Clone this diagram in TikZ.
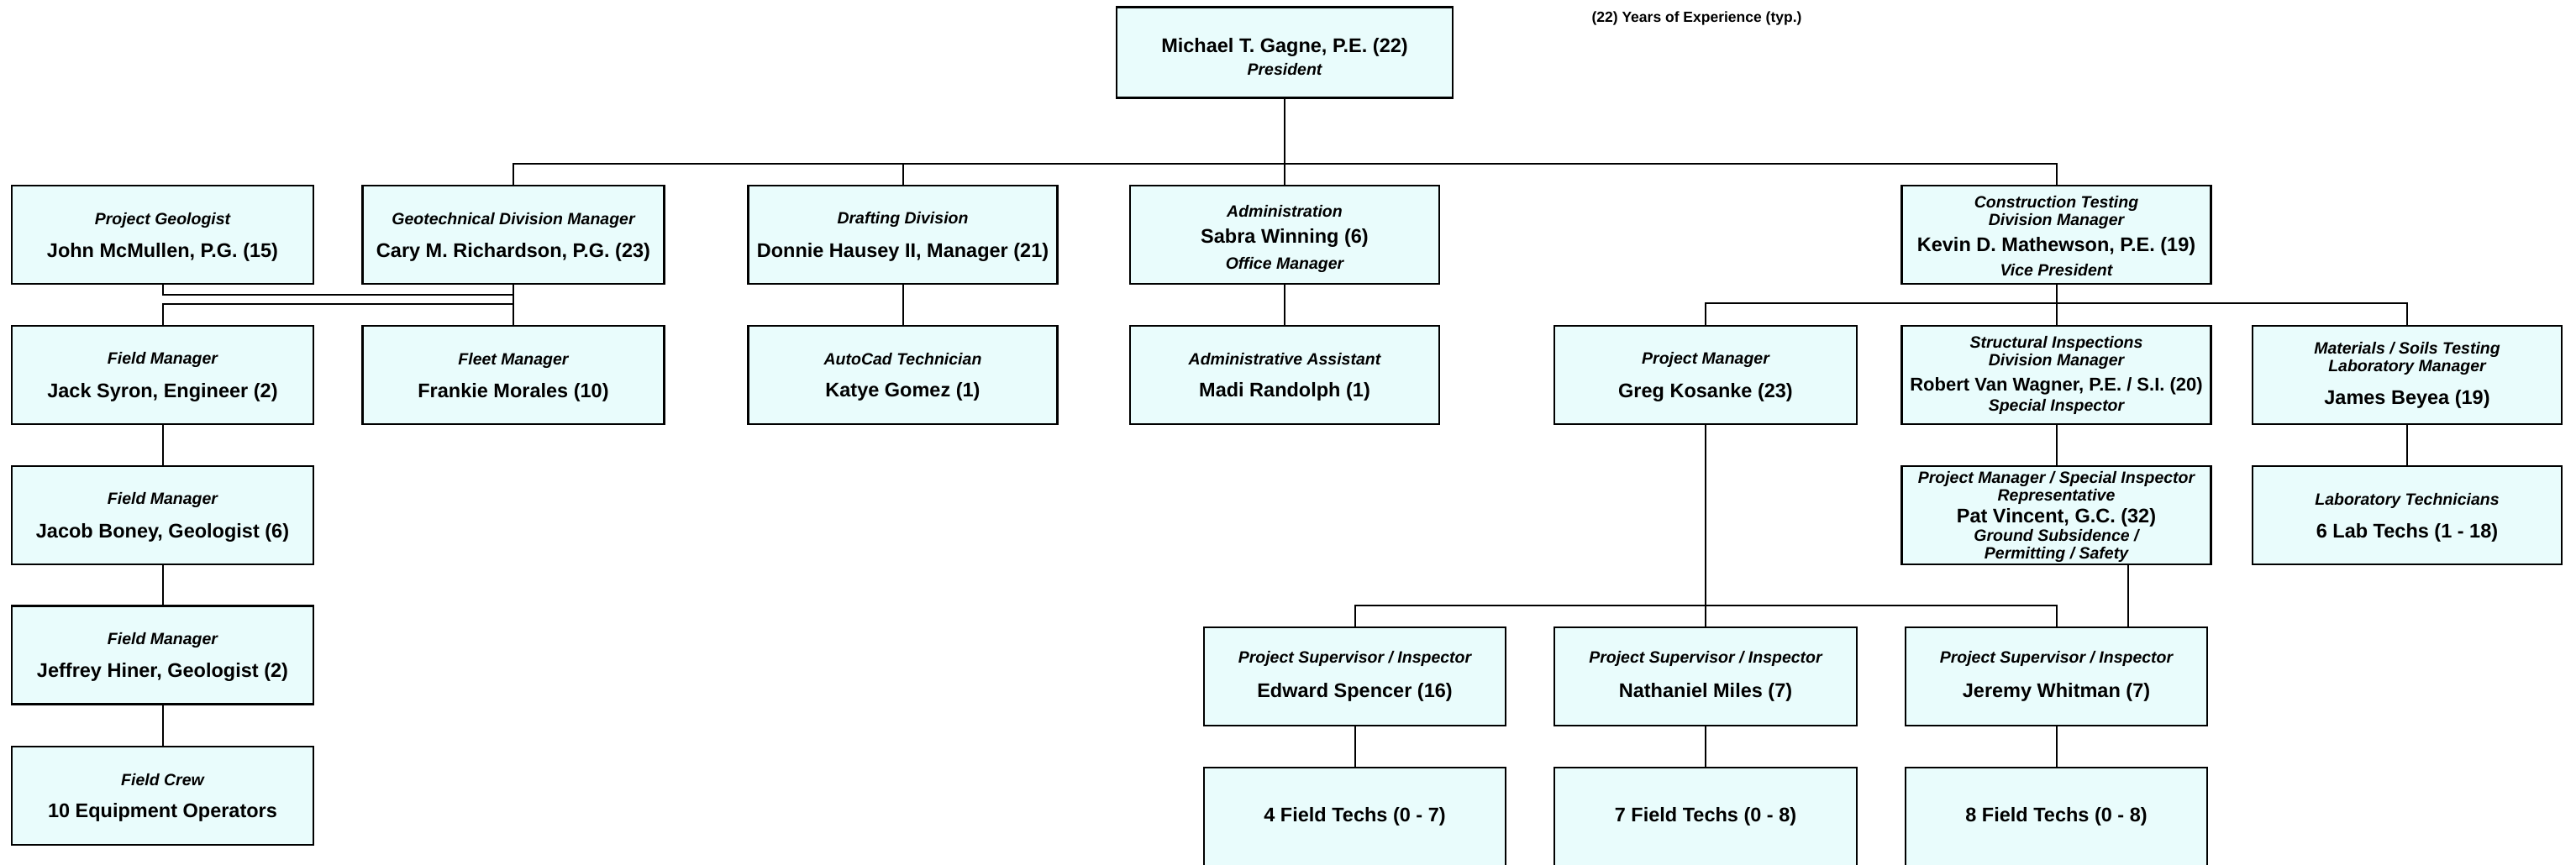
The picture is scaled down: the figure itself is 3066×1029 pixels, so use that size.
\documentclass[tikz,border=0pt]{standalone}
\usepackage{fontspec}
\setmainfont{Liberation Sans}
\definecolor{boxfill}{RGB}{233,252,252}
\newcommand{\rlf}{\fontsize{19.5}{21}\selectfont\bfseries\itshape}
\newcommand{\nmf}{\fontsize{23.5}{21}\selectfont\bfseries\upshape}
\newcommand{\nmsf}{\fontsize{22}{21}\selectfont\bfseries\upshape}
\begin{document}
\begin{tikzpicture}[x=1pt,y=-1pt,
  box/.style={draw=black, line width=2.4pt, fill=boxfill, minimum height=117pt,
              inner sep=0pt, align=center, font=\rlf},
  wA/.style={minimum width=359pt},
  wB/.style={minimum width=368pt},
  link/.style={line width=2pt, draw=black}]
\useasboundingbox (0,0) rectangle (3066,1029);
\clip (0,0) rectangle (3066,1029);
\fill[white] (0,0) rectangle (3066,1029);

% ---------- nodes ----------
\node[box, minimum width=400pt, minimum height=108pt] (pres) at (1529,62.5)
  {\rule{0pt}{28pt}{\nmf Michael T. Gagne, P.E. (22)}\\[6pt]President};
\node[font=\fontsize{17.5}{20}\selectfont\bfseries] (note) at (2019.5,22)
  {(22) Years of Experience (typ.)};

% row 1
\node[box,wA] (pgeo) at (193.5,279.5) {\rule{0pt}{19pt}Project Geologist\\[17pt]{\nmf John McMullen, P.G. (15)}};
\node[box,wA] (geo) at (611,279.5) {\rule{0pt}{19pt}Geotechnical Division Manager\\[17pt]{\nmf Cary M. Richardson, P.G. (23)}};
\node[box,wB] (draft) at (1074.5,279.5) {\rule{0pt}{19pt}Drafting Division\\[17pt]{\nmf Donnie Hausey II, Manager (21)}};
\node[box,wB] (admin) at (1529,279.5) {\rule{0pt}{24pt}Administration\\[10pt]{\nmf Sabra Winning (6)}\\[10pt]Office Manager};
\node[box,wB] (ct) at (2447.5,279.5) {\rule{0pt}{17pt}Construction Testing\\Division Manager\\[9pt]{\nmf Kevin D. Mathewson, P.E. (19)}\\[8pt]Vice President};

% row 2
\node[box,wA] (jack) at (193.5,446.5) {\rule{0pt}{19pt}Field Manager\\[17pt]{\nmf Jack Syron, Engineer (2)}};
\node[box,wA] (fleet) at (611,446.5) {\rule{0pt}{19pt}Fleet Manager\\[17pt]{\nmf Frankie Morales (10)}};
\node[box,wB] (autocad) at (1074.5,446.5) {\rule{0pt}{19pt}AutoCad Technician\\[17pt]{\nmf Katye Gomez (1)}};
\node[box,wB] (asst) at (1529,446.5) {\rule{0pt}{19pt}Administrative Assistant\\[17pt]{\nmf Madi Randolph (1)}};
\node[box,minimum width=360pt] (greg) at (2030,446.5) {\rule{0pt}{19pt}Project Manager\\[17pt]{\nmf Greg Kosanke (23)}};
\node[box,wB] (robert) at (2447.5,446.5) {Structural Inspections\\Division Manager\\[9pt]{\nmsf Robert Van Wagner, P.E. / S.I. (20)}\\[3pt]Special Inspector};
\node[box,wB] (mat) at (2865,446.5) {Materials / Soils Testing\\Laboratory Manager\\[17pt]{\nmf James Beyea (19)}};

% row 3
\node[box,wA] (jacob) at (193.5,613.5) {\rule{0pt}{19pt}Field Manager\\[17pt]{\nmf Jacob Boney, Geologist (6)}};
\node[box,wB] (pat) at (2447.5,613.5) {\rule{0pt}{18pt}Project Manager / Special Inspector\\Representative\\[3pt]{\nmf Pat Vincent, G.C. (32)}\\[1pt]Ground Subsidence /\\Permitting / Safety};
\node[box,wB] (lab) at (2865,613.5) {\rule{0pt}{20pt}Laboratory Technicians\\[17pt]{\nmf 6 Lab Techs (1 - 18)}};

% column A lower rows
\node[box,wA] (jeff) at (193.5,780) {\rule{0pt}{19pt}Field Manager\\[17pt]{\nmf Jeffrey Hiner, Geologist (2)}};
\node[box,wA] (crew) at (193.5,947.5) {\rule{0pt}{19pt}Field Crew\\[17pt]{\nmf 10 Equipment Operators}};

% supervisors
\node[box,wA] (ed) at (1612.5,805.5) {Project Supervisor / Inspector\\[19pt]{\nmf Edward Spencer (16)}};
\node[box,minimum width=360pt] (nat) at (2030,805.5) {Project Supervisor / Inspector\\[19pt]{\nmf Nathaniel Miles (7)}};
\node[box,wA] (jer) at (2447.5,805.5) {Project Supervisor / Inspector\\[19pt]{\nmf Jeremy Whitman (7)}};

% field techs
\node[box,wA] (ft1) at (1612.5,972.5) {{\nmf 4 Field Techs (0 - 7)}};
\node[box,minimum width=360pt] (ft2) at (2030,972.5) {{\nmf 7 Field Techs (0 - 8)}};
\node[box,wA] (ft3) at (2447.5,972.5) {{\nmf 8 Field Techs (0 - 8)}};

% ---------- connectors ----------
\draw[link] (pres.south) -- (admin.north);
\draw[link] (geo.north) -- ++(0,-25) -| (ct.north);
\draw[link] (draft.north) -- ++(0,-25);

\draw[link] (pgeo.south) -- ++(0,12) -| (geo.south);
\draw[link] (geo.south) -- (fleet.north);
\draw[link] (jack.north) -- ++(0,-25) -| (fleet.north);
\draw[link] (jack.south) -- (jacob.north);
\draw[link] (jacob.south) -- (jeff.north);
\draw[link] (jeff.south) -- (crew.north);

\draw[link] (draft.south) -- (autocad.north);
\draw[link] (admin.south) -- (asst.north);

\draw[link] (ct.south) -- (robert.north);
\draw[link] (greg.north) -- ++(0,-26) -| (mat.north);
\draw[link] (robert.south) -- (pat.north);
\draw[link] (mat.south) -- (lab.north);

\draw[link] (greg.south) -- (nat.north);
\draw[link] (ed.north) -- ++(0,-25) -| (jer.north);
\coordinate (patout) at ([xshift=85pt]pat.south);
\draw[link] (patout) -- (patout |- jer.north);

\draw[link] (ed.south) -- (ft1.north);
\draw[link] (nat.south) -- (ft2.north);
\draw[link] (jer.south) -- (ft3.north);
\end{tikzpicture}
\end{document}
